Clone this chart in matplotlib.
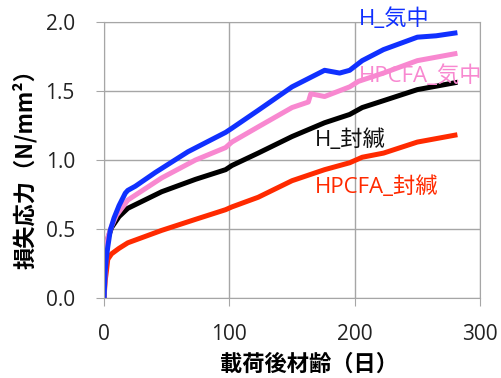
#!/usr/bin/env python3

import numpy as np
import matplotlib.pyplot as plt

plt.rcParams['font.family'] = ['Open Sans', 'Noto Sans CJK JP', 'DejaVu Sans']

# days after loading, stress loss (N/mm2)
h_air_x = [0, 1, 2, 3, 5, 8, 12, 17, 19, 25, 41, 67, 97, 102, 123, 150, 176, 188, 196, 206, 223, 250, 265, 280]
h_air_y = [0, 0.2, 0.3, 0.37, 0.49, 0.58, 0.67, 0.76, 0.78, 0.81, 0.91, 1.06, 1.2, 1.23, 1.36, 1.53, 1.65, 1.63, 1.65, 1.72, 1.8, 1.89, 1.9, 1.92]

hp_air_x = [0, 1, 2, 3, 6, 10, 19, 46, 73, 97, 102, 123, 150, 163, 165, 176, 196, 203, 223, 250, 280]
hp_air_y = [0, 0.22, 0.34, 0.44, 0.52, 0.6, 0.71, 0.87, 1.0, 1.09, 1.13, 1.24, 1.38, 1.42, 1.48, 1.46, 1.53, 1.57, 1.63, 1.72, 1.77]

h_seal_x = [0, 0.5, 1, 3, 6, 12, 19, 46, 73, 97, 102, 123, 150, 176, 196, 206, 223, 250, 280]
h_seal_y = [0, 0.2, 0.33, 0.43, 0.51, 0.59, 0.65, 0.77, 0.86, 0.93, 0.96, 1.05, 1.17, 1.27, 1.33, 1.38, 1.43, 1.51, 1.56]

hp_seal_x = [0, 1, 2, 3, 6, 12, 19, 46, 73, 97, 102, 123, 150, 176, 196, 206, 223, 250, 280]
hp_seal_y = [0, 0.13, 0.2, 0.28, 0.32, 0.36, 0.4, 0.49, 0.57, 0.64, 0.66, 0.73, 0.85, 0.93, 0.98, 1.02, 1.05, 1.13, 1.18]

fig = plt.figure(figsize=(5.01, 3.78), dpi=100)
ax = fig.add_axes([0.2076, 0.2116, 0.7505, 0.7302])

lw = 3.6
ax.plot(hp_seal_x, hp_seal_y, color='#ff2a00', lw=lw)
ax.plot(h_seal_x, h_seal_y, color='black', lw=lw)
ax.plot(hp_air_x, hp_air_y, color='#f888d0', lw=lw)
ax.plot(h_air_x, h_air_y, color='#1030ff', lw=lw)

fs = 16
ax.text(203, 2.02, 'H_気中', color='#1030ff', fontsize=fs, va='center', clip_on=False)
ax.text(203, 1.61, 'HPCFA_気中', color='#f888d0', fontsize=fs, va='center', clip_on=False)
ax.text(168, 1.145, 'H_封緘', color='#111111', fontsize=fs, va='center')
ax.text(168, 0.80, 'HPCFA_封緘', color='#ff2a00', fontsize=fs, va='center')

ax.set_xlim(0, 300)
ax.set_ylim(0, 2.0)
ax.set_xticks([0, 100, 200, 300])
ax.set_yticks([0, 0.5, 1.0, 1.5, 2.0])
ax.set_yticklabels(['0.0', '0.5', '1.0', '1.5', '2.0'])
ax.grid(True, color='#a6a6a6', lw=1)
for s in ax.spines.values():
    s.set_color('#a6a6a6')
ax.tick_params(colors='#a6a6a6', labelcolor='#222222', labelsize=15, length=6)
ax.tick_params(axis='x', pad=13)
ax.tick_params(axis='y', pad=15)

ax.set_xlabel('載荷後材齢（日）', fontsize=16, fontweight='bold',
              family=['Noto Sans CJK JP'])
ax.set_ylabel('損失応力（N/mm²）', fontsize=16, fontweight='bold',
              family=['Noto Sans CJK JP'])
ax.xaxis.set_label_coords(0.545, -0.2)
ax.yaxis.set_label_coords(-0.178, 0.486)

fig.savefig('out.png', dpi=100)
